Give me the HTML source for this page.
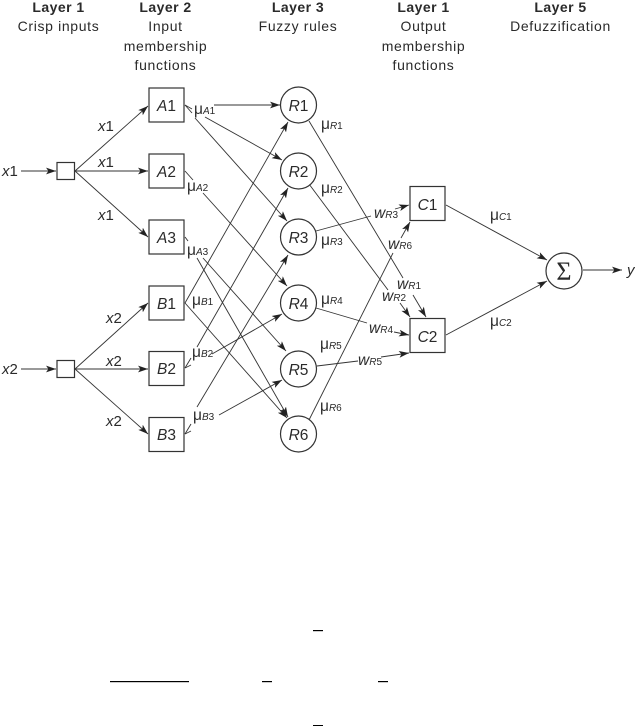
<!DOCTYPE html>
<html><head><meta charset="utf-8"><style>
html,body{margin:0;padding:0;background:#fff}
svg{display:block}
text{font-family:"Liberation Sans",sans-serif;fill:#2a2a2a}
.h{font-size:14px;font-weight:bold;text-anchor:middle;letter-spacing:.45px}
.t{font-size:14px;text-anchor:middle;letter-spacing:.65px}
.n{font-size:15.5px;text-anchor:middle}
.l{font-size:15px}
.m{font-size:15.5px}
.i{font-style:italic}
.s{font-size:10px;font-style:italic}
.s2{font-size:10px}
line{stroke:#333;stroke-width:.9}
.a{marker-end:url(#ar)}
.b{fill:#fff;stroke:#333;stroke-width:1.2}
</style></head><body>
<svg width="635" height="726" viewBox="0 0 635 726" xmlns="http://www.w3.org/2000/svg">
<defs><marker id="ar" markerUnits="userSpaceOnUse" markerWidth="11" markerHeight="8" refX="10" refY="4" orient="auto"><path d="M0,.6 L10,4 L0,7.4 L2.4,4z" fill="#222"/></marker></defs>

<text class="h" x="58.5" y="12">Layer 1</text><text class="t" x="58.5" y="31">Crisp inputs</text>
<text class="h" x="165.5" y="12">Layer 2</text><text class="t" x="165.5" y="31">Input</text><text class="t" x="165.5" y="51">membership</text><text class="t" x="165.5" y="70">functions</text>
<text class="h" x="298" y="12">Layer 3</text><text class="t" x="298" y="31">Fuzzy rules</text>
<text class="h" x="423.5" y="12">Layer 1</text><text class="t" x="423.5" y="31">Output</text><text class="t" x="423.5" y="51">membership</text><text class="t" x="423.5" y="70">functions</text>
<text class="h" x="560.5" y="12">Layer 5</text><text class="t" x="560.5" y="31">Defuzzification</text>

<line class="a" x1="21" y1="171" x2="56" y2="171"/>
<line class="a" x1="75" y1="171" x2="148" y2="106"/>
<line class="a" x1="75" y1="171" x2="148" y2="171"/>
<line class="a" x1="75" y1="171" x2="148" y2="237"/>
<line class="a" x1="21" y1="369" x2="56" y2="369"/>
<line class="a" x1="75" y1="369" x2="148" y2="303"/>
<line class="a" x1="75" y1="369" x2="148" y2="369"/>
<line class="a" x1="75" y1="369" x2="148" y2="434"/>

<line x1="185" y1="105" x2="192" y2="109"/><line x1="185" y1="105" x2="192" y2="113"/>
<line class="a" x1="214" y1="105" x2="280" y2="105"/>
<line class="a" x1="205" y1="117" x2="282" y2="160"/>
<line class="a" x1="195" y1="118" x2="287" y2="221"/>
<line x1="185" y1="171" x2="193" y2="180"/>
<line class="a" x1="203" y1="193" x2="287" y2="286"/>
<line x1="185" y1="237" x2="188" y2="241"/>
<line class="a" x1="203" y1="258" x2="286" y2="351"/>
<line class="a" x1="197" y1="258" x2="288" y2="417"/>
<line class="a" x1="185" y1="303" x2="288" y2="122"/>
<line class="a" x1="185" y1="303" x2="287" y2="418"/>
<line x1="185" y1="368" x2="191" y2="358"/>
<line class="a" x1="197" y1="347" x2="288" y2="188"/>
<line x1="185" y1="368" x2="191" y2="365"/>
<line class="a" x1="212" y1="354" x2="282" y2="314"/>
<line x1="185" y1="434" x2="191" y2="424"/>
<line class="a" x1="197" y1="407" x2="288" y2="255"/>
<line x1="185" y1="434" x2="191" y2="431"/>
<line class="a" x1="219" y1="415" x2="282" y2="380"/>

<line x1="309" y1="121" x2="403" y2="278"/>
<line class="a" x1="413" y1="295" x2="426" y2="317"/>
<line x1="309" y1="184" x2="388" y2="290"/>
<line class="a" x1="400" y1="303" x2="410" y2="317"/>
<line x1="316" y1="231" x2="371" y2="216"/>
<line class="a" x1="395" y1="209" x2="409" y2="205"/>
<line x1="316" y1="308" x2="367" y2="323"/>
<line class="a" x1="394" y1="332" x2="409" y2="335"/>
<line x1="317" y1="366" x2="358" y2="361"/>
<line class="a" x1="381" y1="357" x2="409" y2="353"/>
<line x1="309" y1="420" x2="393" y2="253"/>
<line class="a" x1="401" y1="238" x2="410" y2="222"/>
<line class="a" x1="446" y1="205" x2="547" y2="260"/>
<line class="a" x1="446" y1="335" x2="547" y2="281"/>
<line class="a" x1="583" y1="270" x2="622" y2="270"/>

<rect class="b" x="57" y="162.5" width="17.5" height="17"/>
<rect class="b" x="57" y="360.5" width="17.5" height="17"/>
<rect class="b" x="149" y="88" width="35" height="34"/>
<rect class="b" x="149" y="154" width="35" height="34"/>
<rect class="b" x="149" y="220" width="35" height="34"/>
<rect class="b" x="149" y="286" width="35" height="34"/>
<rect class="b" x="149" y="351.5" width="35" height="34"/>
<rect class="b" x="149" y="417.5" width="35" height="34"/>
<rect class="b" x="410" y="186.5" width="35" height="34"/>
<rect class="b" x="410" y="318.5" width="35" height="34"/>
<circle class="b" cx="298.5" cy="105" r="18"/>
<circle class="b" cx="298.5" cy="171" r="18"/>
<circle class="b" cx="298.5" cy="237" r="18"/>
<circle class="b" cx="298.5" cy="303" r="18"/>
<circle class="b" cx="298.5" cy="369" r="18"/>
<circle class="b" cx="298.5" cy="434" r="18"/>
<circle class="b" cx="564" cy="271" r="18"/>

<text class="n" x="166.5" y="111"><tspan class="i">A</tspan>1</text>
<text class="n" x="166.5" y="177"><tspan class="i">A</tspan>2</text>
<text class="n" x="166.5" y="243"><tspan class="i">A</tspan>3</text>
<text class="n" x="166.5" y="309"><tspan class="i">B</tspan>1</text>
<text class="n" x="166.5" y="374"><tspan class="i">B</tspan>2</text>
<text class="n" x="166.5" y="440"><tspan class="i">B</tspan>3</text>
<text class="n" x="298.5" y="111"><tspan class="i">R</tspan>1</text>
<text class="n" x="298.5" y="177"><tspan class="i">R</tspan>2</text>
<text class="n" x="298.5" y="243"><tspan class="i">R</tspan>3</text>
<text class="n" x="298.5" y="309"><tspan class="i">R</tspan>4</text>
<text class="n" x="298.5" y="375"><tspan class="i">R</tspan>5</text>
<text class="n" x="298.5" y="440"><tspan class="i">R</tspan>6</text>
<text class="n" x="427.5" y="210"><tspan class="i">C</tspan>1</text>
<text class="n" x="427.5" y="342"><tspan class="i">C</tspan>2</text>
<text x="564" y="280" text-anchor="middle" style="font-family:'Liberation Serif',serif;font-size:26px">Σ</text>

<text class="l" x="2" y="176"><tspan class="i">x</tspan>1</text>
<text class="l" x="98" y="131"><tspan class="i">x</tspan>1</text>
<text class="l" x="98" y="167"><tspan class="i">x</tspan>1</text>
<text class="l" x="98" y="220"><tspan class="i">x</tspan>1</text>
<text class="l" x="2" y="374"><tspan class="i">x</tspan>2</text>
<text class="l" x="106" y="323"><tspan class="i">x</tspan>2</text>
<text class="l" x="106" y="366"><tspan class="i">x</tspan>2</text>
<text class="l" x="106" y="426"><tspan class="i">x</tspan>2</text>
<text class="l i" x="627" y="275">y</text>

<text class="m" x="194" y="114">μ<tspan class="s">A</tspan><tspan class="s2">1</tspan></text>
<text class="m" x="187" y="191">μ<tspan class="s">A</tspan><tspan class="s2">2</tspan></text>
<text class="m" x="187" y="255">μ<tspan class="s">A</tspan><tspan class="s2">3</tspan></text>
<text class="m" x="192" y="305">μ<tspan class="s">B</tspan><tspan class="s2">1</tspan></text>
<text class="m" x="192" y="357">μ<tspan class="s">B</tspan><tspan class="s2">2</tspan></text>
<text class="m" x="193" y="420">μ<tspan class="s">B</tspan><tspan class="s2">3</tspan></text>
<text class="m" x="321" y="129">μ<tspan class="s">R</tspan><tspan class="s2">1</tspan></text>
<text class="m" x="321" y="193">μ<tspan class="s">R</tspan><tspan class="s2">2</tspan></text>
<text class="m" x="321" y="245">μ<tspan class="s">R</tspan><tspan class="s2">3</tspan></text>
<text class="m" x="321" y="304">μ<tspan class="s">R</tspan><tspan class="s2">4</tspan></text>
<text class="m" x="320" y="349">μ<tspan class="s">R</tspan><tspan class="s2">5</tspan></text>
<text class="m" x="320" y="411">μ<tspan class="s">R</tspan><tspan class="s2">6</tspan></text>
<text class="m" x="490" y="220">μ<tspan class="s">C</tspan><tspan class="s2">1</tspan></text>
<text class="m" x="490" y="326">μ<tspan class="s">C</tspan><tspan class="s2">2</tspan></text>

<text class="m" x="374" y="218"><tspan class="i">w</tspan><tspan class="s">R</tspan><tspan class="s2">3</tspan></text>
<text class="m" x="388" y="249"><tspan class="i">w</tspan><tspan class="s">R</tspan><tspan class="s2">6</tspan></text>
<text class="m" x="397" y="289"><tspan class="i">w</tspan><tspan class="s">R</tspan><tspan class="s2">1</tspan></text>
<text class="m" x="382" y="301"><tspan class="i">w</tspan><tspan class="s">R</tspan><tspan class="s2">2</tspan></text>
<text class="m" x="369" y="333"><tspan class="i">w</tspan><tspan class="s">R</tspan><tspan class="s2">4</tspan></text>
<text class="m" x="358" y="365"><tspan class="i">w</tspan><tspan class="s">R</tspan><tspan class="s2">5</tspan></text>

<rect x="313" y="630" width="10" height="1.2" fill="#000"/>
<rect x="110" y="681" width="79" height="1.2" fill="#000"/>
<rect x="262" y="681" width="10" height="1.2" fill="#000"/>
<rect x="378" y="681" width="10" height="1.2" fill="#000"/>
<rect x="313" y="725" width="10" height="1" fill="#000"/>
</svg>
</body></html>
